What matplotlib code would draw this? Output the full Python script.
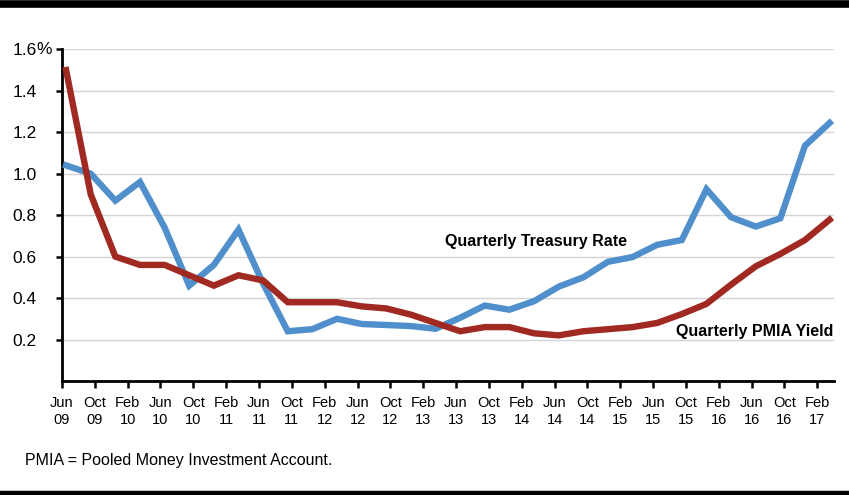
import matplotlib
matplotlib.use("Agg")
import matplotlib.pyplot as plt
from matplotlib.lines import Line2D

# ---- data ----
tick_labels = ["Jun\n09", "Oct\n09", "Feb\n10", "Jun\n10", "Oct\n10", "Feb\n11", "Jun\n11", "Oct\n11",
               "Feb\n12", "Jun\n12", "Oct\n12", "Feb\n13", "Jun\n13", "Oct\n13", "Feb\n14", "Jun\n14",
               "Oct\n14", "Feb\n15", "Jun\n15", "Oct\n15", "Feb\n16", "Jun\n16", "Oct\n16", "Feb\n17"]
tick_months = [4 * i for i in range(len(tick_labels))]  # months since Jun 2009

# quarterly observations (months since Jun 2009, mid-month)
quarter_months = [0.5 + 3 * k for k in range(32)]
treasury = [1.04, 1.00, 0.87, 0.96, 0.74, 0.46, 0.56, 0.73, 0.47, 0.24, 0.25, 0.30,
            0.275, 0.27, 0.265, 0.252, 0.305, 0.364, 0.344, 0.385, 0.455, 0.50, 0.575, 0.598,
            0.657, 0.68, 0.925, 0.79, 0.745, 0.785, 1.135, 1.245]
pmia = [1.50, 0.90, 0.60, 0.56, 0.56, 0.51, 0.46, 0.51, 0.485, 0.38, 0.38, 0.38,
        0.36, 0.35, 0.32, 0.28, 0.24, 0.26, 0.26, 0.23, 0.22, 0.24, 0.25, 0.26,
        0.28, 0.323, 0.372, 0.465, 0.553, 0.613, 0.68, 0.778]
y_ticks = [0.2, 0.4, 0.6, 0.8, 1.0, 1.2, 1.4, 1.6]
y_labels = ["0.2", "0.4", "0.6", "0.8", "1.0", "1.2", "1.4", "1.6"]

BLUE = "#4f8fcb"
RED = "#a02a22"

plt.rcParams["font.family"] = ["Liberation Sans", "DejaVu Sans"]

fig = plt.figure(figsize=(8.49, 4.95), dpi=100)
ax = fig.add_axes([0.073, 0.2303, 0.909, 0.6701])

for y in y_ticks:
    ax.axhline(y, color="#d4d4d4", lw=1.0, zorder=1)

ax.plot(quarter_months, treasury, color=BLUE, lw=4.6, solid_joinstyle="miter", zorder=3)
ax.plot(quarter_months, pmia, color=RED, lw=4.6, solid_joinstyle="miter", zorder=3)

ax.set_xlim(0, 94)
ax.set_ylim(0, 1.6)
ax.set_xticks(tick_months)
ax.set_xticklabels(tick_labels, fontsize=10.5, linespacing=1.25)
ax.set_yticks(y_ticks)
ax.set_yticklabels(y_labels, fontsize=12.5)

for s in ["top", "right"]:
    ax.spines[s].set_visible(False)
for s in ["left", "bottom"]:
    ax.spines[s].set_linewidth(2.0)
    ax.spines[s].set_color("black")
ax.tick_params(axis="x", direction="out", length=5, width=1.8, pad=6)
ax.tick_params(axis="y", direction="out", length=4, width=1.8, pad=14.2)

# percent sign hanging after the top label
ax.annotate("%", xy=(0, 1.6), xycoords=("axes fraction", "data"),
            xytext=(-18.6, 0), textcoords="offset points",
            fontsize=12.5, ha="left", va="center")

ax.text(57.7, 0.672, "Quarterly Treasury Rate", fontsize=11.5, fontweight="bold",
        ha="center", va="center", zorder=4)
ax.text(94.0, 0.238, "Quarterly PMIA Yield", fontsize=11.5, fontweight="bold",
        ha="right", va="center", zorder=4)

fig.text(25 / 849, 1 - 461 / 495, "PMIA = Pooled Money Investment Account.", fontsize=11.5,
         ha="left", va="center")

# frame bars
fig.add_artist(Line2D([0, 1], [1 - 3.5 / 495, 1 - 3.5 / 495], transform=fig.transFigure,
                      color="black", lw=5.5))
fig.add_artist(Line2D([0, 1], [1 - 492.5 / 495, 1 - 492.5 / 495], transform=fig.transFigure,
                      color="black", lw=3.2))

fig.savefig("out.png", dpi=100)
